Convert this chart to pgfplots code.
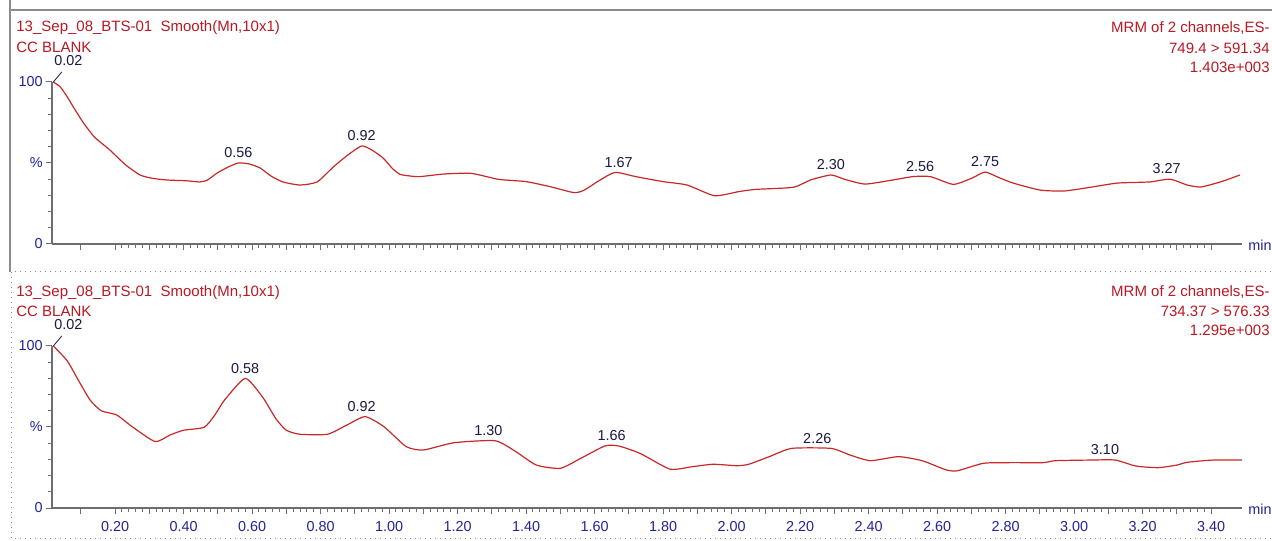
\documentclass[border=0pt]{standalone}
\usepackage{fontspec}
\setmainfont{Liberation Sans}
\usepackage{pgfplots}
\usepackage{pgfplotstable}
\pgfplotsset{compat=1.18}

\definecolor{trace}{RGB}{200,40,40}
\definecolor{hdr}{RGB}{185,25,35}
\definecolor{tick}{RGB}{35,35,150}
\definecolor{peak}{RGB}{25,25,70}
\definecolor{axisgray}{RGB}{110,110,110}
\definecolor{frame}{RGB}{140,140,140}

% channel 1: 749.4 > 591.34 (time in min, relative intensity in %)
\pgfplotstableread{
t     i
0.020 100
0.040 97
0.060 91
0.080 84
0.107 75
0.140 66
0.185 58
0.230 49
0.273 42.6
0.310 40.5
0.352 39.5
0.410 39
0.448 38.3
0.470 39.5
0.498 43.8
0.530 47.5
0.560 50
0.590 49.5
0.623 47
0.655 42
0.690 38.3
0.740 36.4
0.790 38.3
0.837 47.5
0.880 55
0.920 60.5
0.950 58
0.983 53
1.010 46.5
1.032 43
1.060 42
1.090 41.6
1.160 43.2
1.240 43.6
1.320 39.9
1.400 38.5
1.470 35.4
1.540 31.7
1.570 33.3
1.616 39.5
1.660 44.2
1.720 41.6
1.800 38.5
1.870 36.4
1.950 29.8
2.020 32.3
2.070 33.7
2.180 35
2.230 39.5
2.290 42.6
2.330 39.9
2.390 37
2.470 39.5
2.530 41.6
2.580 41.6
2.647 36.8
2.700 40.5
2.740 44.4
2.780 41
2.822 37.6
2.900 33.3
2.970 32.7
3.047 35
3.126 37.6
3.220 38.3
3.280 40
3.330 36.4
3.370 35.2
3.430 38.5
3.484 42.6
}\chanA

% channel 2: 734.37 > 576.33
\pgfplotstableread{
t     i
0.020 100
0.060 91
0.090 80
0.127 66.7
0.160 60
0.205 57.4
0.250 50.2
0.317 41
0.360 45
0.400 48
0.460 49.8
0.490 57
0.520 66.7
0.580 80
0.630 68.7
0.670 55
0.700 48
0.740 45.5
0.820 45.5
0.875 51
0.930 56.4
0.985 50.2
1.050 37.9
1.100 35.8
1.190 40.3
1.310 41.5
1.370 34.8
1.430 26.5
1.500 24.5
1.560 30.7
1.630 38.3
1.670 38.3
1.733 33.7
1.820 24
1.885 25.5
1.946 27
2.016 26.1
2.050 27
2.110 31.7
2.175 36.8
2.290 36.8
2.346 32.7
2.405 29.2
2.487 31.7
2.556 29.2
2.627 23.5
2.660 23
2.735 27.6
2.816 28
2.910 28
2.945 29.2
3.050 29.6
3.120 29.6
3.180 25.9
3.245 24.9
3.300 26.5
3.330 28.2
3.405 29.6
3.490 29.6
}\chanB

\newcommand\lab{\fontsize{7.2}{8.5}\selectfont}
\newcommand\hdrfont{\fontsize{7.5}{9}\selectfont}

\pgfplotsset{
  chrom/.style={
    anchor=south west, scale only axis,
    width=595pt, height=81pt,
    xmin=0.016, xmax=3.49, ymin=0, ymax=100,
    axis x line*=bottom, axis y line*=left,
    axis line style={draw=axisgray, -, line width=0.6pt},
    tick align=outside,
    major tick length=3pt, minor tick length=1.8pt,
    tick style={draw=axisgray, line width=0.5pt},
    ytick={0,50,100}, yticklabels={0,\%,100},
    minor ytick={10,20,30,40,60,70,80,90},
    xtick={0.2,0.4,0.6,0.8,1.0,1.2,1.4,1.6,1.8,2.0,2.2,2.4,2.6,2.8,3.0,3.2,3.4},
    minor x tick num=9,
    extra x ticks={0.1,0.3,0.5,0.7,0.9,1.1,1.3,1.5,1.7,1.9,2.1,2.3,2.5,2.7,2.9,3.1,3.3},
    extra x tick labels={},
    ticklabel style={font=\lab, text=tick},
    /pgf/number format/assume math mode=true,
    xticklabel style={/pgf/number format/.cd, fixed, fixed zerofill, precision=2},
    yticklabel style={inner sep=1.5pt},
    clip=false,
  },
  tracestyle/.style={draw=trace, line width=0.6pt, no marks, smooth, tension=0.35},
}
\tikzset{
  peaklab/.style={font=\lab, text=peak, anchor=south, inner sep=0pt, yshift=2.4pt},
  leadlab/.style={font=\lab, text=peak, inner sep=0pt, xshift=7.5pt, yshift=10.5pt},
  minlab/.style={font=\lab, text=tick, anchor=base west, inner sep=0pt, xshift=3pt, yshift=-3.3pt},
}

\begin{document}
\begin{tikzpicture}
\useasboundingbox (0,0) rectangle (636pt,270pt);
\clip (0,0) rectangle (636pt,270pt);
\fill[white] (0,0) rectangle (636pt,270pt);

% window frame and pane separators
\draw[frame, line width=1pt] (5pt,270pt) -- (5pt,265pt) -- (636pt,265pt);
\draw[frame, line width=1pt] (5pt,265pt) -- (5pt,134pt);
\draw[frame, line width=0.5pt, dotted] (5pt,134pt) -- (636pt,134pt);
\draw[frame, line width=0.5pt, dotted] (5.5pt,134pt) -- (5.5pt,1pt) -- (636pt,1pt);

% pane headers: sample on the left, channel on the right
\begin{scope}[every node/.style={font=\hdrfont, text=hdr, inner sep=0pt}]
\node[anchor=base west] at (8pt,254.2pt) {13\_Sep\_08\_BTS-01\ \ Smooth(Mn,10x1)};
\node[anchor=base west] at (8pt,243.7pt) {CC BLANK};
\node[anchor=base east] at (635pt,253.7pt) {MRM of 2 channels,ES-};
\node[anchor=base east] at (635pt,243.3pt) {749.4 > 591.34};
\node[anchor=base east] at (635pt,233.7pt) {1.403e+003};

\node[anchor=base west] at (8pt,121.7pt) {13\_Sep\_08\_BTS-01\ \ Smooth(Mn,10x1)};
\node[anchor=base west] at (8pt,111.7pt) {CC BLANK};
\node[anchor=base east] at (635pt,121.7pt) {MRM of 2 channels,ES-};
\node[anchor=base east] at (635pt,111.7pt) {734.37 > 576.33};
\node[anchor=base east] at (635pt,102pt) {1.295e+003};
\end{scope}

% upper trace
\begin{axis}[chrom, at={(26pt,148pt)}, xticklabels={}]
\addplot[tracestyle] table[x=t, y=i] {\chanA};
\draw[peak, line width=0.4pt] (axis cs:0.02,100) -- ++(4.2pt,5pt);
\node[leadlab] at (axis cs:0.02,100) {0.02};
\node[peaklab] at (axis cs:0.56,50) {0.56};
\node[peaklab] at (axis cs:0.92,60.5) {0.92};
\node[peaklab] at (axis cs:1.67,44.2) {1.67};
\node[peaklab] at (axis cs:2.29,42.6) {2.30};
\node[peaklab] at (axis cs:2.55,41.6) {2.56};
\node[peaklab] at (axis cs:2.74,44.4) {2.75};
\node[peaklab] at (axis cs:3.27,40) {3.27};
\node[minlab] at (rel axis cs:1,0) {min};
\end{axis}

% lower trace
\begin{axis}[chrom, at={(26pt,16pt)}]
\addplot[tracestyle] table[x=t, y=i] {\chanB};
\draw[peak, line width=0.4pt] (axis cs:0.02,100) -- ++(4.2pt,5pt);
\node[leadlab] at (axis cs:0.02,100) {0.02};
\node[peaklab] at (axis cs:0.58,80) {0.58};
\node[peaklab] at (axis cs:0.92,56.4) {0.92};
\node[peaklab] at (axis cs:1.29,41.5) {1.30};
\node[peaklab] at (axis cs:1.65,38.3) {1.66};
\node[peaklab] at (axis cs:2.25,36.8) {2.26};
\node[peaklab] at (axis cs:3.09,29.6) {3.10};
\node[minlab] at (rel axis cs:1,0) {min};
\end{axis}
\end{tikzpicture}
\end{document}
